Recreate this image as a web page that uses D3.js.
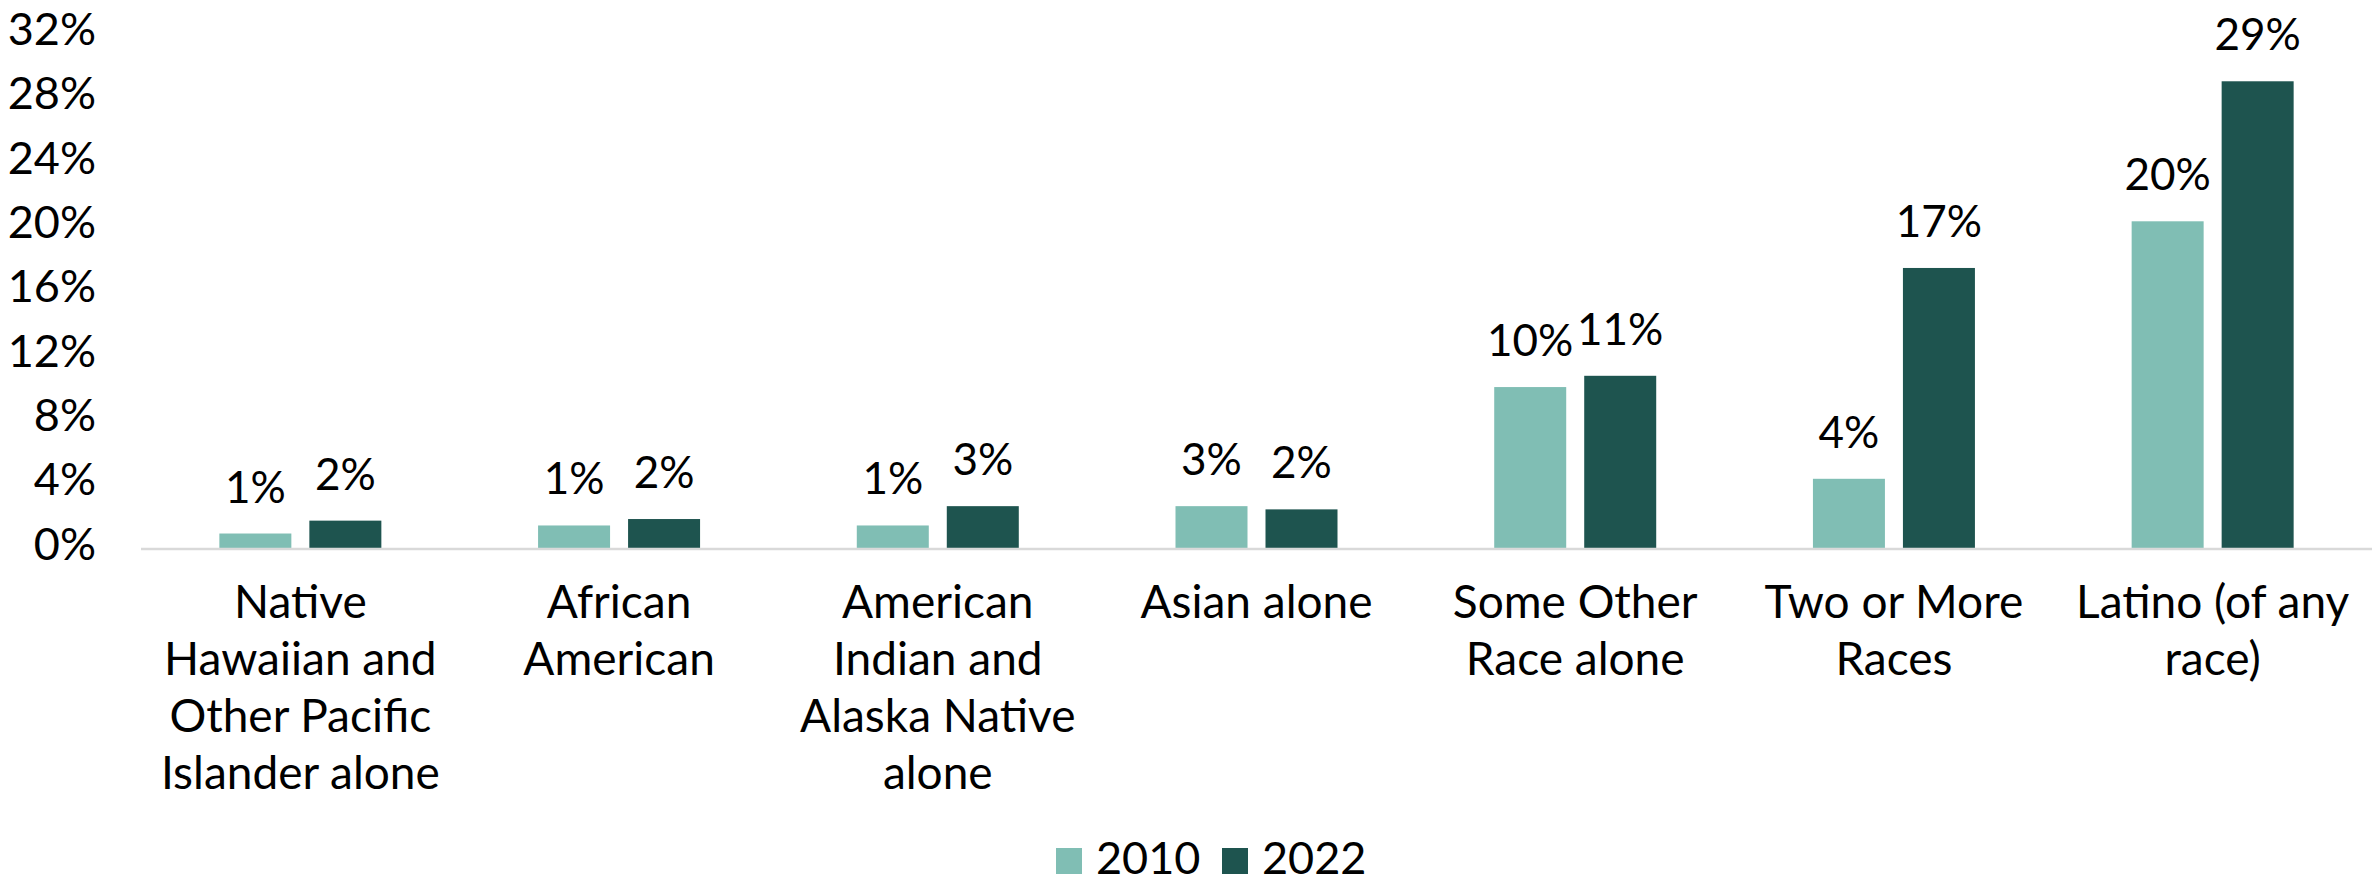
<!DOCTYPE html>
<html>
<head>
<meta charset="utf-8">
<script src="https://cdn.jsdelivr.net/npm/d3@7"></script>
<style>
  body { margin: 0; background: #fff; }
  svg text { font-family: Lato, "Open Sans", sans-serif; fill: #000; }
</style>
</head>
<body>
<div id="chart"></div>
<script>
// Data
const categories = [
    ["Native", "Hawaiian and", "Other Pacific", "Islander alone"],
    ["African", "American"],
    ["American", "Indian and", "Alaska Native", "alone"],
    ["Asian alone"],
    ["Some Other", "Race alone"],
    ["Two or More", "Races"],
    ["Latino (of any", "race)"]
];
const years = ["2010", "2022"];
const values2010 = [0.9, 1.4, 1.4, 2.6, 10.0, 4.3, 20.3];
const values2022 = [1.7, 1.8, 2.6, 2.4, 10.7, 17.4, 29.0];
const yTicks = [0, 4, 8, 12, 16, 20, 24, 28, 32];
const colors = ["#80BEB4", "#1E544F"];

const width = 2377, height = 887;
const margin = { top: 33, right: 5, bottom: 339, left: 141 };
const innerW = width - margin.left - margin.right;
const innerH = height - margin.top - margin.bottom;

const svg = d3.select("#chart")
    .append("svg")
    .attr("width", width)
    .attr("height", height);

const g = svg.append("g")
    .attr("transform", `translate(${margin.left},${margin.top})`);

const x = d3.scaleBand()
    .domain(d3.range(categories.length))
    .range([0, innerW]);

// two bars per group, 72px wide with an 18px gap
const barW = 72, barGap = 18;
const xSub = d3.scaleBand()
    .domain(years)
    .range([x.bandwidth() / 2 - barW - barGap / 2, x.bandwidth() / 2 + barW + barGap / 2])
    .paddingInner(barGap / (barW + barGap));

const y = d3.scaleLinear()
    .domain([0, 32])
    .range([innerH, 0]);

// Y axis labels (no axis line)
g.append("g")
    .selectAll("text")
    .data(yTicks)
    .join("text")
    .attr("x", 96 - margin.left)
    .attr("y", d => y(d) - 4)
    .attr("dy", "0.35em")
    .attr("text-anchor", "end")
    .style("font-size", "45px")
    .text(d => d + "%");

const rows = categories.map((c, i) => ({ i, v: [values2010[i], values2022[i]] }));

const groups = g.selectAll(".grp")
    .data(rows)
    .join("g")
    .attr("class", "grp")
    .attr("transform", d => `translate(${x(d.i)},0)`);

groups.selectAll("rect")
    .data(d => d.v.map((v, k) => ({ year: years[k], v, k })))
    .join("rect")
    .attr("x", d => xSub(d.year))
    .attr("width", xSub.bandwidth())
    .attr("y", d => y(d.v))
    .attr("height", d => y(0) - y(d.v))
    .attr("fill", d => colors[d.k]);

groups.selectAll(".val")
    .data(d => d.v.map((v, k) => ({ year: years[k], v, k })))
    .join("text")
    .attr("class", "val")
    .attr("x", d => xSub(d.year) + xSub.bandwidth() / 2)
    .attr("y", d => y(d.v) - 31)
    .attr("text-anchor", "middle")
    .style("font-size", "44px")
    .text(d => Math.round(d.v) + "%");

// baseline
g.append("line")
    .attr("x1", 0)
    .attr("x2", innerW)
    .attr("y1", y(0) + 1)
    .attr("y2", y(0) + 1)
    .attr("stroke", "#D9D9D9")
    .attr("stroke-width", 2.5);

// category labels
const catText = g.append("g")
    .selectAll("text")
    .data(categories)
    .join("text")
    .attr("x", (d, i) => x(i) + x.bandwidth() / 2)
    .attr("y", innerH + 70)
    .attr("text-anchor", "middle")
    .style("font-size", "46px");

catText.selectAll("tspan")
    .data(d => d)
    .join("tspan")
    .attr("x", function () { return d3.select(this.parentNode).attr("x"); })
    .attr("dy", (d, i) => i === 0 ? 0 : 57)
    .text(d => d);

// legend (kept just inside the bottom edge)
const legend = svg.append("g")
    .attr("transform", "translate(1056,848)");
const legendX = [0, 166];
years.forEach((yr, k) => {
    legend.append("rect")
        .attr("x", legendX[k])
        .attr("y", 0)
        .attr("width", 26)
        .attr("height", 26)
        .attr("fill", colors[k]);
    legend.append("text")
        .attr("x", legendX[k] + 40)
        .attr("y", 26)
        .style("font-size", "45px")
        .text(yr);
});
</script>
</body>
</html>
